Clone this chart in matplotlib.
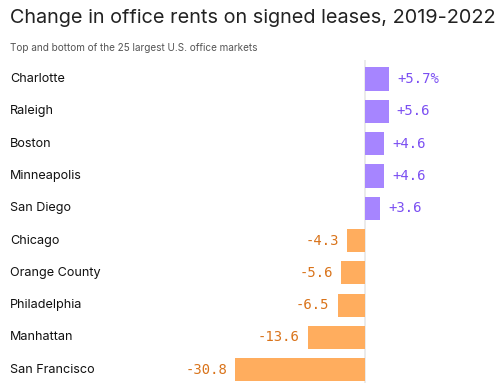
import matplotlib.pyplot as plt

cities = ["Charlotte", "Raleigh", "Boston", "Minneapolis", "San Diego",
          "Chicago", "Orange County", "Philadelphia", "Manhattan", "San Francisco"]
changes = [5.7, 5.6, 4.6, 4.6, 3.6, -4.3, -5.6, -6.5, -13.6, -30.8]
labels = ["+5.7%", "+5.6", "+4.6", "+4.6", "+3.6", "-4.3", "-5.6", "-6.5", "-13.6", "-30.8"]

W, H = 504, 383
fig = plt.figure(figsize=(W / 100, H / 100), dpi=100)

# axes spans the whole width, zero line sits at x=365 px
ax = fig.add_axes([0, 0, 1, (383 - 60) / H])
px_per_unit = 4.22
ax.set_xlim(-365 / px_per_unit, (W - 365) / px_per_unit)
ax.set_ylim(9.41, -0.59)
ax.axis("off")

pos_bar, neg_bar = "#a685ff", "#ffad5e"
pos_txt, neg_txt = "#7b4ff2", "#d9731a"

y = list(range(len(cities)))
colors = [pos_bar if v > 0 else neg_bar for v in changes]
ax.barh(y, changes, height=0.72, color=colors, zorder=2)
ax.axvline(0, color="#e8e8e8", lw=1.2, zorder=1)

for i, (c, v, lab) in enumerate(zip(cities, changes, labels)):
    ax.text(10 / W, i, c, transform=ax.get_yaxis_transform(),
            ha="left", va="center", fontsize=9.1, family="Inter", color="#111111")
    off = 8 / px_per_unit
    if v > 0:
        ax.text(v + off, i, lab, ha="left", va="center", fontsize=10,
                family="DejaVu Sans Mono", color=pos_txt)
    else:
        ax.text(v - off, i, lab, ha="right", va="center", fontsize=10,
                family="DejaVu Sans Mono", color=neg_txt)

fig.text(10 / W, 1 - 18 / H, "Change in office rents on signed leases, 2019-2022",
         ha="left", va="center", fontsize=14.3, family="Inter", color="#222222")
fig.text(10 / W, 1 - 48 / H, "Top and bottom of the 25 largest U.S. office markets",
         ha="left", va="center", fontsize=7.2, family="Inter", color="#555555")

fig.savefig("out.png", dpi=100)
